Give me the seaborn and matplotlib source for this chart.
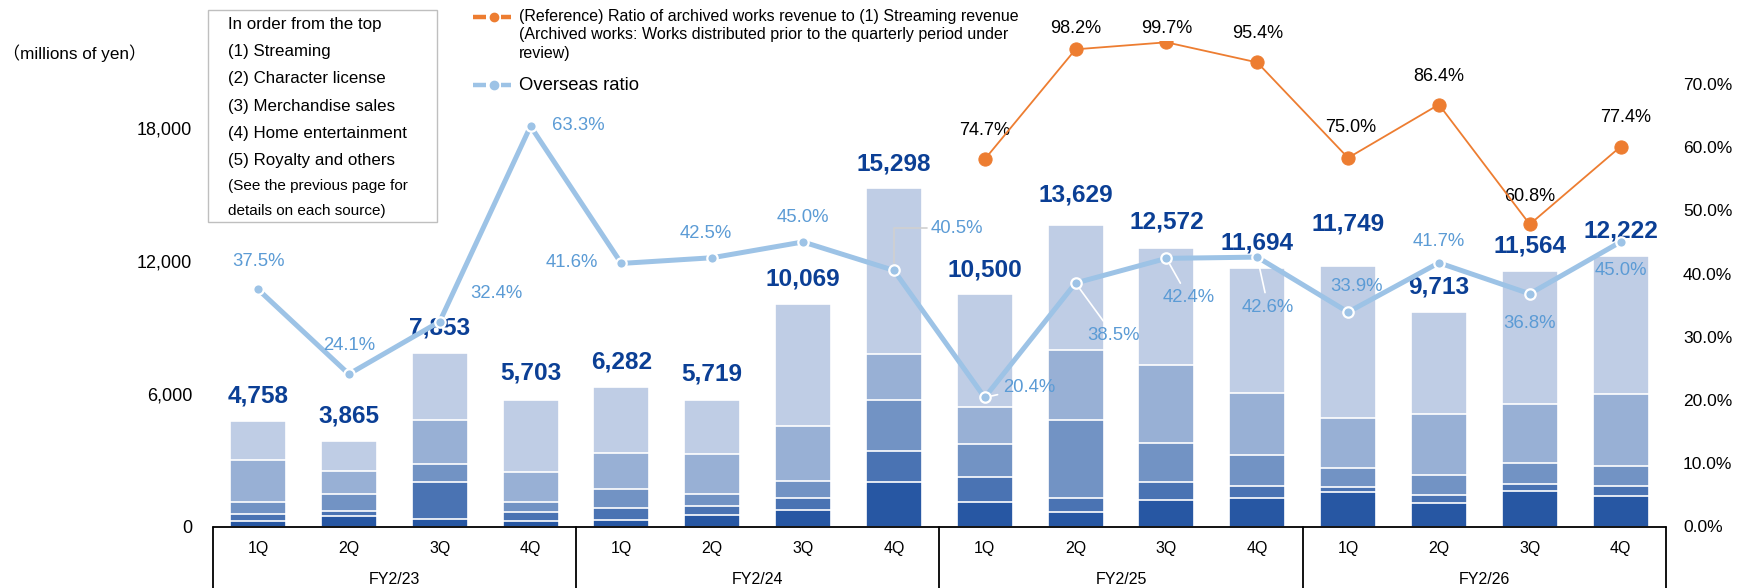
import numpy as np
import pandas as pd
import matplotlib
matplotlib.use("Agg")
import matplotlib.pyplot as plt
import matplotlib.transforms as mtransforms
from matplotlib.patches import Rectangle
from matplotlib.lines import Line2D
import seaborn as sns

# ---------------- data ----------------
fiscal_years = ["FY2/23", "FY2/24", "FY2/25", "FY2/26"]
quarters = ["1Q", "2Q", "3Q", "4Q"]
totals = [4758, 3865, 7853, 5703, 6282, 5719, 10069, 15298,
          10500, 13629, 12572, 11694, 11749, 9713, 11564, 12222]
streaming = [1744, 1348, 3032, 3263, 2965, 2434, 5507, 7517,
             5105, 5644, 5294, 5667, 6825, 4620, 6021, 6258]
character_license = [1911, 1053, 2002, 1337, 1613, 1821, 2498, 2056,
                     1672, 3163, 3483, 2819, 2286, 2788, 2679, 3253]
merchandise = [529, 754, 786, 470, 890, 560, 754, 2336,
               1477, 3538, 1776, 1369, 831, 904, 949, 872]
home_entertainment = [348, 258, 1699, 375, 511, 389, 587, 1383,
                      1130, 633, 813, 556, 226, 330, 289, 452]
royalty_others = [226, 452, 334, 258, 303, 515, 723, 2006,
                  1116, 651, 1206, 1283, 1581, 1071, 1626, 1387]
overseas_ratio = [37.5, 24.1, 32.4, 63.3, 41.6, 42.5, 45.0, 40.5,
                  20.4, 38.5, 42.4, 42.6, 33.9, 41.7, 36.8, 45.0]
archived_ratio = [np.nan] * 8 + [74.7, 98.2, 99.7, 95.4, 75.0, 86.4, 60.8, 77.4]
left_ticks = [0, 6000, 12000, 18000]
right_ticks = [0, 10, 20, 30, 40, 50, 60, 70]
legend_lines = ["In order from the top", "(1) Streaming", "(2) Character license",
                "(3) Merchandise sales", "(4) Home entertainment",
                "(5) Royalty and others", "(See the previous page for",
                "details on each source)"]
orange_legend = ["(Reference) Ratio of archived works revenue to (1) Streaming revenue",
                 "(Archived works: Works distributed prior to the quarterly period under",
                 "review)"]
blue_legend = "Overseas ratio"
unit_label = "（millions of yen）"

# ---------------- label placement (pixels) ----------------
total_gap = [25, 25, 25, 27, 25, 26, 25, 24, 24, 30, 26, 25, 42, 25, 25, 25]
overseas_off = [(0, -28), (0, -29), (57, -28), (48, -1), (-50, -1), (-6, -24), (0, -24),
                (63, -42), (45, -10), (38, 52), (22, 39), (11, 50), (8, -26), (0, -21),
                (0, 30), (0, 29)]
overseas_leader = {2, 8, 9, 10, 11}
archived_off = [(0, -29), (0, -21), (0, -14), (0, -29), (3, -30), (0, -28), (0, -28), (5, -29)]

# ---------------- style ----------------
sns.set_style("white")
plt.rcParams["font.family"] = ["Liberation Sans", "Noto Sans CJK JP", "DejaVu Sans"]

W, H, DPI = 1737, 588, 100
PT = 72.0 / DPI
fig = plt.figure(figsize=(W / DPI, H / DPI), dpi=DPI)
fig.patch.set_facecolor("white")


def fx(px):
    return px / W


def fy(py):
    return 1 - py / H


AX_L, AX_R, AX_B, AX_T = 212.6, 1666.0, 526.5, 40.9
ax = fig.add_axes([fx(AX_L), fy(AX_B), fx(AX_R - AX_L), (AX_B - AX_T) / H])
ymax = (AX_B - AX_T) / 132.8 * 6000

labels = [f"{f} {q}" for f in fiscal_years for q in quarters]
pos = np.arange(len(labels))
df = pd.DataFrame({
    "label": labels,
    "royalty": royalty_others,
    "home": home_entertainment,
    "merch": merchandise,
    "character": character_license,
    "streaming": streaming,
})
seg_order = ["royalty", "home", "merch", "character", "streaming"]
seg_colors = ["#2757A3", "#4A73B3", "#7293C4", "#98B0D5", "#BFCDE5"]
cum = df[seg_order].cumsum(axis=1)
for k in range(len(seg_order) - 1, -1, -1):
    d = pd.DataFrame({"label": labels, "v": cum[seg_order[k]].values})
    sns.barplot(data=d, x="label", y="v", order=labels, color=seg_colors[k],
                saturation=1, width=0.616, edgecolor="white", linewidth=1.2,
                errorbar=None, ax=ax, zorder=2)

ax.set_xlim(-0.5, 15.5)
ax.set_ylim(0, ymax)
ax.set_xticks([])
ax.set_xlabel("")
ax.set_ylabel("")
ax.set_yticks(left_ticks)
ax.set_yticklabels([f"{v:,}" for v in left_ticks])
ax.tick_params(axis="y", length=0, pad=14.8, labelsize=13, labelcolor="black")

# total labels
for i, t in enumerate(totals):
    ax.annotate(f"{t:,}", xy=(pos[i], cum["streaming"].values[i]),
                xytext=(0, total_gap[i] * PT), textcoords="offset points",
                ha="center", va="center", fontsize=17.6, fontweight="bold",
                color="#0B3F95", zorder=6, annotation_clip=False)

# secondary axis: overseas ratio
ax2 = ax.twinx()
ax2.set_ylim(0, ymax * 70 / 20000)
sns.lineplot(x=pos, y=overseas_ratio, ax=ax2, color="#9DC3E6", linewidth=3.6,
             marker="o", markersize=7.5, markerfacecolor="#9DC3E6",
             markeredgecolor="white", markeredgewidth=1.6, zorder=4)
ax2.set_yticks(right_ticks)
ax2.set_yticklabels([f"{v:.1f}%" for v in right_ticks])
ax2.tick_params(axis="y", length=0, pad=12.2, labelsize=12.5, labelcolor="black")
ax2.set_ylabel("")
ax2.set_xlim(-0.5, 15.5)

for i, v in enumerate(overseas_ratio):
    dx, dy = overseas_off[i]
    kw = {}
    if i in overseas_leader:
        kw["arrowprops"] = dict(arrowstyle="-", color="white", lw=1.2,
                                shrinkA=2, shrinkB=5)
    elif i == 7:
        kw["arrowprops"] = dict(arrowstyle="-", color="#D0D0D0", lw=1.2,
                                shrinkA=0, shrinkB=5,
                                connectionstyle="angle,angleA=0,angleB=90,rad=0",
                                relpos=(0.0, 0.5))
    ax2.annotate(f"{v:.1f}%", xy=(pos[i], v), xytext=(dx * PT, -dy * PT),
                 textcoords="offset points", ha="center", va="center",
                 fontsize=13.3, color="#5B9BD5", zorder=6, annotation_clip=False, **kw)

# third axis: archived works ratio
ax3 = ax.twinx()
ax3.set_ylim(-3.78, 100)
sns.lineplot(x=pos, y=archived_ratio, ax=ax3, color="#ED7D31", linewidth=1.3,
             marker="o", markersize=9.5, markerfacecolor="#ED7D31",
             markeredgecolor="#ED7D31", zorder=5)
ax3.set_xlim(-0.5, 15.5)
ax3.axis("off")
arch_pos = [p for p, v in zip(pos, archived_ratio) if not np.isnan(v)]
arch_vals = [v for v in archived_ratio if not np.isnan(v)]
for j, (p, v) in enumerate(zip(arch_pos, arch_vals)):
    dx, dy = archived_off[j]
    ax3.annotate(f"{v:.1f}%", xy=(p, v), xytext=(dx * PT, -dy * PT),
                 textcoords="offset points", ha="center", va="center",
                 fontsize=13.1, color="black", annotation_clip=False)

for a in (ax, ax2, ax3):
    for s in a.spines.values():
        s.set_visible(False)

# category box
trans = mtransforms.blended_transform_factory(ax.transData, fig.transFigure)
ax.plot([-0.5, 15.5], [fy(AX_B)] * 2, transform=trans, color="black", lw=1.3,
        clip_on=False, zorder=7)
for xb in [-0.5, 3.5, 7.5, 11.5, 15.5]:
    ax.plot([xb, xb], [fy(AX_B), 0], transform=trans, color="black", lw=1.3,
            clip_on=False, zorder=7)
for i in range(len(labels)):
    ax.text(pos[i], fy(548), quarters[i % 4], transform=trans, ha="center",
            va="center", fontsize=11.5, color="black")
for k, f in enumerate(fiscal_years):
    ax.text(4 * k + 1.5, fy(580), f, transform=trans, ha="center", va="center",
            fontsize=11.5, color="black")

# unit label
fig.text(fx(3), fy(53.3), unit_label, ha="left", va="center", fontsize=12.3,
         color="black")

# legend box
fig.add_artist(Rectangle((fx(207.8), fy(222.3)), fx(437.4 - 207.8), (222.3 - 10) / H,
                         transform=fig.transFigure, facecolor="white",
                         edgecolor="#BFBFBF", lw=1.0, zorder=8))
line_y = [25, 51.7, 79, 106, 133.3, 161, 185.7, 211]
for k, (txt, yy) in enumerate(zip(legend_lines, line_y)):
    fig.text(fx(228.5), fy(yy), txt, ha="left", va="center",
             fontsize=12.2 if k < 6 else 11, color="black", zorder=9)


def legend_icon(y, color):
    fig.add_artist(Line2D([fx(472.5), fx(486)], [fy(y)] * 2, color=color, lw=3.2,
                          solid_capstyle="butt"))
    fig.add_artist(Line2D([fx(501), fx(510.8)], [fy(y)] * 2, color=color, lw=3.2,
                          solid_capstyle="butt"))
    fig.add_artist(Line2D([fx(493.6)], [fy(y)], marker="o", markersize=6,
                          color=color, lw=0))


legend_icon(16.7, "#ED7D31")
for txt, yy in zip(orange_legend, [16.7, 35, 53.3]):
    fig.text(fx(519), fy(yy), txt, ha="left", va="center", fontsize=11.5,
             color="black")
legend_icon(85, "#9DC3E6")
fig.text(fx(519), fy(85), blue_legend, ha="left", va="center", fontsize=13.3,
         color="black")

fig.savefig("out.png", dpi=DPI, facecolor="white")
